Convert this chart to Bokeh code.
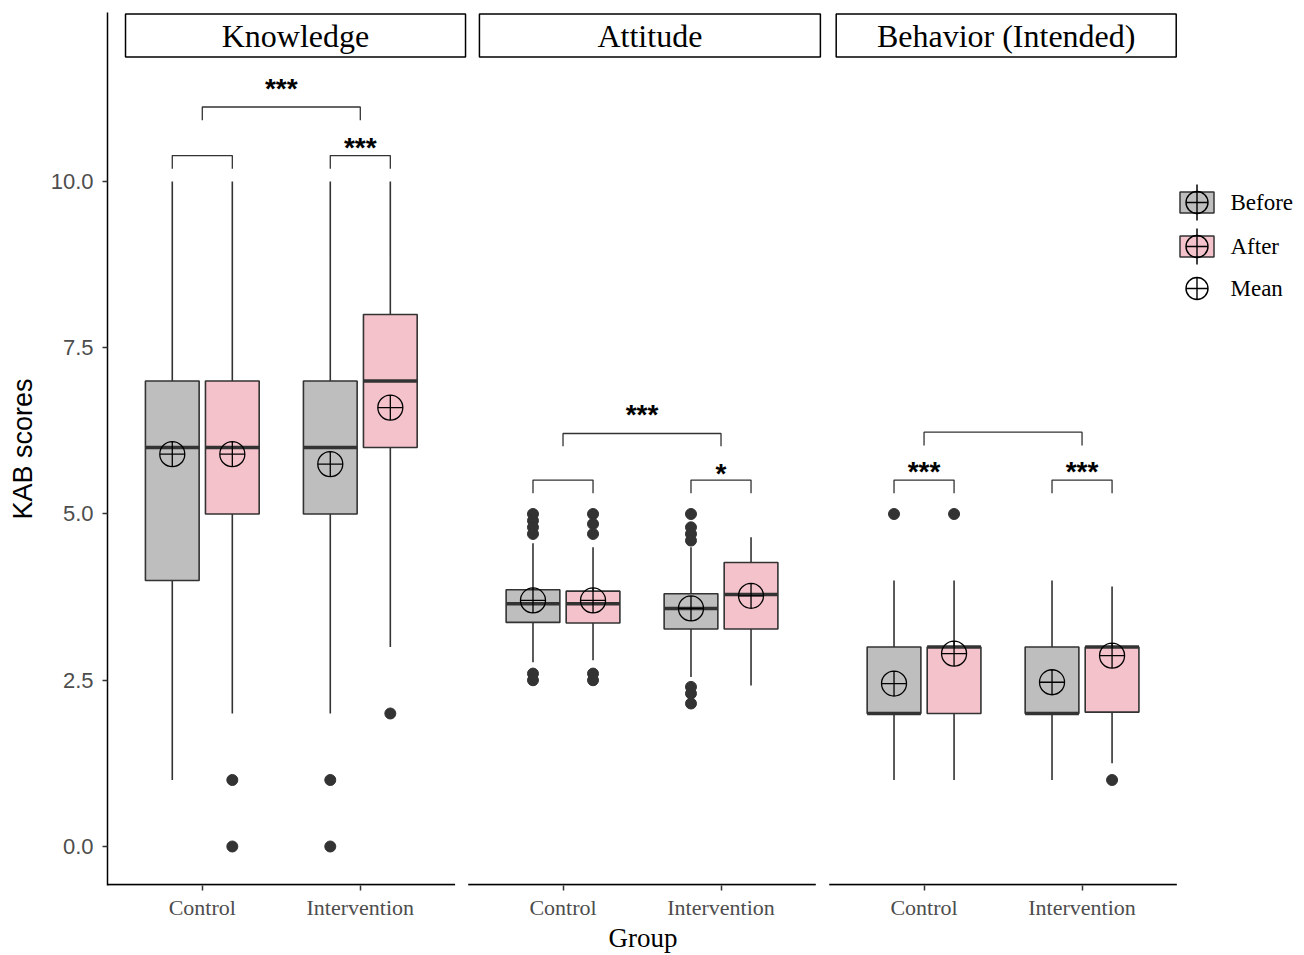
from bokeh.plotting import figure
from bokeh.layouts import row
from bokeh.models import Range1d, FixedTicker, CustomJSTickFormatter, PrintfTickFormatter
from bokeh.core.properties import value
from bokeh.embed import file_html
from bokeh.resources import INLINE

# ---------------- data ----------------
PANELS = ["Knowledge", "Attitude", "Behavior (Intended)"]
GROUPS = ["Control", "Intervention"]
TIMES = ["Before", "After"]
# order in each list: Control-Before, Control-After, Intervention-Before, Intervention-After
K_LOW = [1, 2, 2, 3]
K_Q1 = [4, 5, 5, 6]
K_MED = [6, 6, 6, 7]
K_Q3 = [7, 7, 7, 8]
K_HIGH = [10, 10, 10, 10]
K_MEAN = [5.9, 5.9, 5.75, 6.6]
K_OUT = [[], [1, 0], [1, 0], [2]]

A_LOW = [2.77, 2.8, 2.55, 2.42]
A_Q1 = [3.37, 3.36, 3.27, 3.27]
A_MED = [3.65, 3.65, 3.58, 3.79]
A_Q3 = [3.86, 3.84, 3.8, 4.27]
A_HIGH = [4.56, 4.5, 4.5, 4.65]
A_MEAN = [3.7, 3.7, 3.58, 3.77]
A_OUT = [[5.0, 4.9, 4.8, 4.7, 2.6, 2.5], [5.0, 4.85, 4.7, 2.6, 2.5],
         [5.0, 4.8, 4.7, 4.6, 2.4, 2.3, 2.15], []]

B_LOW = [1, 1, 1, 1.25]
B_Q1 = [2, 2, 2, 2.02]
B_MED = [2, 3, 2, 3]
B_Q3 = [3, 3, 3, 3]
B_HIGH = [4, 4, 4, 3.91]
B_MEAN = [2.45, 2.9, 2.47, 2.87]
B_OUT = [[5], [5], [], [1]]

# significance brackets per panel: [pair Control, pair Intervention, Control vs Intervention]
BR_TOP = [[10.39, 10.39, 11.12], [5.51, 5.51, 6.21], [5.51, 5.51, 6.23]]
BR_BOT = [[10.19, 10.19, 10.92], [5.31, 5.31, 6.02], [5.31, 5.31, 6.03]]
BR_LABEL = [["", "***", "***"], ["", "*", "***"], ["***", "***", ""]]
BR_LABEL_Y = [[0, 10.56, 11.44], [0, 5.66, 6.54], [5.68, 5.68, 0]]

Y_TICKS = [0, 2.5, 5, 7.5, 10]
LEGEND_LABELS = ["Before", "After", "Mean"]

STATS = [
    (K_LOW, K_Q1, K_MED, K_Q3, K_HIGH, K_MEAN, K_OUT),
    (A_LOW, A_Q1, A_MED, A_Q3, A_HIGH, A_MEAN, A_OUT),
    (B_LOW, B_Q1, B_MED, B_Q3, B_HIGH, B_MEAN, B_OUT),
]

# ---------------- layout constants ----------------
X_START, X_END = 0.4, 7.1785
Y_START, Y_END = -0.5865, 12.541
OFFSETS = [0.0, 2.283, 4.568]
STRIP_LR = [(0.514, 2.666), (0.471, 2.629), (0.444, 2.596)]
STRIP_BT = (11.87, 12.52)
DODGE = 0.19
BOX_W = 0.34
FILLS = {"Before": "#BEBEBE", "After": "#F4C2CB"}
DARK = "#333333"

p = figure(frame_width=1071, frame_height=873,
           x_range=Range1d(X_START, X_END), y_range=Range1d(Y_START, Y_END),
           output_backend="svg", toolbar_location=None,
           min_border_left=107, min_border_right=0, min_border_top=12, min_border_bottom=40)
p.grid.visible = False
p.outline_line_color = None
p.background_fill_color = "white"
p.border_fill_color = "white"

# strips
for k, name in enumerate(PANELS):
    l, r = STRIP_LR[k]
    l += OFFSETS[k]
    r += OFFSETS[k]
    p.quad(left=[l], right=[r], bottom=[STRIP_BT[0]], top=[STRIP_BT[1]],
           fill_color="white", line_color="black", line_width=1.5)
    p.text(x=[(l + r) / 2], y=[(STRIP_BT[0] + STRIP_BT[1]) / 2], text=[name],
           text_font=value("Liberation Serif"), text_font_size="32px",
           text_align="center", text_baseline="middle", text_color="black")
    # bottom axis line of each panel
    yb = Y_START + 0.012
    p.segment(x0=[OFFSETS[k] + 0.4], x1=[OFFSETS[k] + 2.6], y0=[yb], y1=[yb],
              line_color="black", line_width=2)

# boxes
for k in range(3):
    low, q1, med, q3, high, mean, outs = STATS[k]
    i = 0
    for g in range(2):
        for t, tname in enumerate(TIMES):
            xc = OFFSETS[k] + g + 1 + (-DODGE if t == 0 else DODGE)
            p.segment(x0=[xc, xc], x1=[xc, xc], y0=[low[i], q3[i]], y1=[q1[i], high[i]],
                      line_color=DARK, line_width=1.6)
            p.quad(left=[xc - BOX_W / 2], right=[xc + BOX_W / 2], bottom=[q1[i]], top=[q3[i]],
                   fill_color=FILLS[tname], line_color=DARK, line_width=1.6)
            p.segment(x0=[xc - BOX_W / 2], x1=[xc + BOX_W / 2], y0=[med[i]], y1=[med[i]],
                      line_color=DARK, line_width=3.5)
            if outs[i]:
                p.scatter(x=[xc] * len(outs[i]), y=outs[i], size=11, color=DARK)
            p.scatter(x=[xc], y=[mean[i]], marker="circle_cross", size=25,
                      fill_color=None, line_color="black", line_width=1.3)
            i += 1

# significance brackets
for k in range(3):
    for b in range(3):
        if b < 2:
            xc = OFFSETS[k] + b + 1
            x0, x1 = xc - DODGE, xc + DODGE
        else:
            x0, x1 = OFFSETS[k] + 1, OFFSETS[k] + 2
        top, bot = BR_TOP[k][b], BR_BOT[k][b]
        p.line(x=[x0, x0, x1, x1], y=[bot, top, top, bot], line_color=DARK, line_width=1.3)
        if BR_LABEL[k][b]:
            p.text(x=[(x0 + x1) / 2], y=[BR_LABEL_Y[k][b]], text=[BR_LABEL[k][b]],
                   text_font=value("Liberation Sans"), text_font_size="28px",
                   text_font_style="bold",
                   text_align="center", text_baseline="middle", y_offset=3,
                   text_color="black")

# axes
x_ticks = [OFFSETS[k] + g + 1 for k in range(3) for g in range(2)]
x_labels = [GROUPS[g] for k in range(3) for g in range(2)]
p.xaxis.ticker = FixedTicker(ticks=x_ticks)
p.xaxis.formatter = CustomJSTickFormatter(args=dict(labels=x_labels), code="return labels[index]")
p.xaxis.axis_line_color = None
p.xaxis.major_tick_line_color = DARK
p.xaxis.major_tick_line_width = 1.5
p.xaxis.major_tick_out = 5
p.xaxis.major_tick_in = 0
p.xaxis.minor_tick_line_color = None
p.xaxis.major_label_text_font = "Liberation Serif"
p.xaxis.major_label_text_font_size = "22px"
p.xaxis.major_label_text_color = "#4D4D4D"
p.xaxis.major_label_standoff = 4
p.xaxis.axis_label = "Group"
p.xaxis.axis_label_text_font = "Liberation Serif"
p.xaxis.axis_label_text_font_size = "27px"
p.xaxis.axis_label_text_font_style = "normal"
p.xaxis.axis_label_text_color = "black"
p.xaxis.axis_label_standoff = 0

p.yaxis.ticker = FixedTicker(ticks=Y_TICKS)
p.yaxis.formatter = PrintfTickFormatter(format="%.1f")
p.yaxis.axis_line_color = "black"
p.yaxis.axis_line_width = 1.5
p.yaxis.major_tick_line_color = DARK
p.yaxis.major_tick_line_width = 1.5
p.yaxis.major_tick_out = 5
p.yaxis.major_tick_in = 0
p.yaxis.minor_tick_line_color = None
p.yaxis.major_label_text_font = "Liberation Sans"
p.yaxis.major_label_text_font_size = "22px"
p.yaxis.major_label_text_color = "#4D4D4D"
p.yaxis.major_label_standoff = 9
p.yaxis.axis_label = "KAB scores"
p.yaxis.axis_label_text_font = "Liberation Sans"
p.yaxis.axis_label_text_font_size = "27px"
p.yaxis.axis_label_text_font_style = "normal"
p.yaxis.axis_label_text_color = "black"
p.yaxis.axis_label_standoff = 10

# ---------------- legend (separate small figure, pixel-like coordinates) ----------------
# the row aligns this figure's frame top with the main frame top (12 px below page top)
LW, LH = 124, 400
lg = figure(frame_width=LW, frame_height=LH, x_range=Range1d(0, LW), y_range=Range1d(LH, 0),
            output_backend="svg", toolbar_location=None, min_border=0,
            min_border_left=0, min_border_right=0, min_border_top=0, min_border_bottom=0,
            x_axis_location=None, y_axis_location=None)
lg.grid.visible = False
lg.outline_line_color = None
lg.border_fill_color = "white"
LEG_Y = [190, 234, 276]
for j, lab in enumerate(LEGEND_LABELS):
    yc = LEG_Y[j]
    if lab in FILLS:
        lg.segment(x0=[18.5], x1=[18.5], y0=[yc - 18], y1=[yc + 18], line_color="black", line_width=1.5)
        lg.quad(left=[1.5], right=[35.5], bottom=[yc - 10.5], top=[yc + 10.5],
                fill_color=FILLS[lab], line_color=DARK, line_width=1.5)
    lg.scatter(x=[18.5], y=[yc], marker="circle_cross", size=22,
               fill_color=None, line_color="black", line_width=1.4)
    lg.text(x=[52], y=[yc], text=[lab], text_font=value("Liberation Serif"),
            text_font_size="23px", text_baseline="middle", text_align="left", text_color="black")

layout = row(p, lg)
open("out.html", "w").write(file_html(layout, INLINE))
